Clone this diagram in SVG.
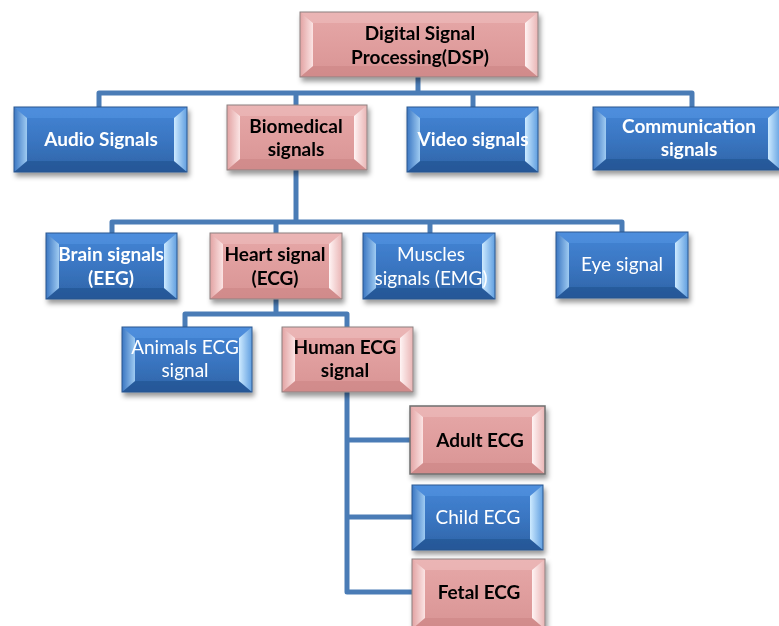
<svg xmlns="http://www.w3.org/2000/svg" width="779" height="626" viewBox="0 0 779 626">
  <defs>
    <linearGradient id="gBlue" x1="0" y1="0" x2="0" y2="1">
      <stop offset="0" stop-color="#4486d6"/>
      <stop offset="0.5" stop-color="#3a76c2"/>
      <stop offset="1" stop-color="#2f64a6"/>
    </linearGradient>
    <linearGradient id="gPink" x1="0" y1="0" x2="0" y2="1">
      <stop offset="0" stop-color="#e6a8a8"/>
      <stop offset="0.5" stop-color="#e09e9e"/>
      <stop offset="1" stop-color="#d89494"/>
    </linearGradient>
    <linearGradient id="gBlueL" x1="0" y1="0" x2="1" y2="0">
      <stop offset="0" stop-color="#3a76c2"/>
      <stop offset="1" stop-color="#9fcbf2"/>
    </linearGradient>
    <linearGradient id="gBlueR" x1="0" y1="0" x2="1" y2="0">
      <stop offset="0" stop-color="#cdeaff"/>
      <stop offset="1" stop-color="#5f9ee0"/>
    </linearGradient>
    <linearGradient id="gPinkL" x1="0" y1="0" x2="1" y2="0">
      <stop offset="0" stop-color="#e2a2a2"/>
      <stop offset="1" stop-color="#fbe4e4"/>
    </linearGradient>
    <linearGradient id="gPinkR" x1="0" y1="0" x2="1" y2="0">
      <stop offset="0" stop-color="#fff4f4"/>
      <stop offset="1" stop-color="#e9b4b4"/>
    </linearGradient>
    <filter id="shadow" x="-10%" y="-15%" width="125%" height="140%">
      <feDropShadow dx="2" dy="4" stdDeviation="2.5" flood-color="#000" flood-opacity="0.4"/>
    </filter>
  </defs>
  <style>
    .node { filter: url(#shadow); }
    .blue .face { fill: url(#gBlue); }
    .blue .lf { fill: url(#gBlueL); }
    .blue .rf { fill: url(#gBlueR); }
    .blue .tf { fill: #5a9ae6; opacity: 0.45; }
    .blue .bf { fill: #1f4f8c; opacity: 0.55; }
    .blue .edge { fill: none; stroke: #2b568f; stroke-width: 1; }
    .pink .face { fill: url(#gPink); }
    .pink .lf { fill: url(#gPinkL); }
    .pink .rf { fill: url(#gPinkR); }
    .pink .tf { fill: #f0c2c2; opacity: 0.5; }
    .pink .bf { fill: #c98282; opacity: 0.5; }
    .pink .edge { fill: none; stroke: #8c8080; stroke-width: 1; }
    text { font-family: Lato, "Liberation Sans", sans-serif; font-size: 19px; text-anchor: middle; }
    .blue text { fill: #ffffff; }
    .pink text { fill: #000000; }
    .b { font-weight: bold; }
    .r { font-weight: normal; }
    .wire { fill: none; stroke: #4a7cb6; stroke-width: 5; stroke-linejoin: round; }
  </style>

  <!-- connectors -->
  <g id="connectors">
    <path class="wire" d="M418,77 V93"/>
    <path class="wire" d="M99,107 V93 H692 V107"/>
    <path class="wire" d="M296,93 V105"/>
    <path class="wire" d="M473,93 V107"/>
    <path class="wire" d="M296,170 V222"/>
    <path class="wire" d="M112,233 V222 H622 V232"/>
    <path class="wire" d="M276,222 V233"/>
    <path class="wire" d="M430,222 V233"/>
    <path class="wire" d="M276,299 V314"/>
    <path class="wire" d="M185,327 V314 H347 V327"/>
    <path class="wire" d="M347,392 V592 H412"/>
    <path class="wire" d="M347,440 H410"/>
    <path class="wire" d="M347,517 H412"/>
  </g>

  <!-- level 0 -->
  <g id="dsp" class="node pink">
    <rect class="face" x="300" y="12" width="238" height="65"/>
    <polygon class="tf" points="300,12 538,12 525,23 313,23"/>
    <polygon class="bf" points="300,77 313,66 525,66 538,77"/>
    <polygon class="lf" points="300,12 313,23 313,66 300,77"/>
    <polygon class="rf" points="525,23 538,12 538,77 525,66"/>
    <rect class="edge" x="300" y="12" width="238" height="65"/>
    <text class="b" x="420" y="40">Digital Signal</text>
    <text class="b" x="420" y="64">Processing(DSP)</text>
  </g>

  <!-- level 1 -->
  <g id="audio" class="node blue">
    <rect class="face" x="14" y="107" width="173" height="65"/>
    <polygon class="tf" points="14,107 187,107 174,118 27,118"/>
    <polygon class="bf" points="14,172 27,161 174,161 187,172"/>
    <polygon class="lf" points="14,107 27,118 27,161 14,172"/>
    <polygon class="rf" points="174,118 187,107 187,172 174,161"/>
    <rect class="edge" x="14" y="107" width="173" height="65"/>
    <text class="b" x="101" y="146">Audio Signals</text>
  </g>

  <g id="biomedical" class="node pink">
    <rect class="face" x="227" y="105" width="140" height="65"/>
    <polygon class="tf" points="227,105 367,105 354,116 240,116"/>
    <polygon class="bf" points="227,170 240,159 354,159 367,170"/>
    <polygon class="lf" points="227,105 240,116 240,159 227,170"/>
    <polygon class="rf" points="354,116 367,105 367,170 354,159"/>
    <rect class="edge" x="227" y="105" width="140" height="65"/>
    <text class="b" x="296" y="133">Biomedical</text>
    <text class="b" x="296" y="156">signals</text>
  </g>

  <g id="video" class="node blue">
    <rect class="face" x="407" y="107" width="131" height="65"/>
    <polygon class="tf" points="407,107 538,107 525,118 420,118"/>
    <polygon class="bf" points="407,172 420,161 525,161 538,172"/>
    <polygon class="lf" points="407,107 420,118 420,161 407,172"/>
    <polygon class="rf" points="525,118 538,107 538,172 525,161"/>
    <rect class="edge" x="407" y="107" width="131" height="65"/>
    <text class="b" x="473" y="146">Video signals</text>
  </g>

  <g id="communication" class="node blue">
    <rect class="face" x="593" y="107" width="188" height="63"/>
    <polygon class="tf" points="593,107 781,107 768,118 606,118"/>
    <polygon class="bf" points="593,170 606,159 768,159 781,170"/>
    <polygon class="lf" points="593,107 606,118 606,159 593,170"/>
    <polygon class="rf" points="768,118 781,107 781,170 768,159"/>
    <rect class="edge" x="593" y="107" width="188" height="63"/>
    <text class="b" x="689" y="133">Communication</text>
    <text class="b" x="689" y="156">signals</text>
  </g>

  <!-- level 2 -->
  <g id="brain" class="node blue">
    <rect class="face" x="46" y="233" width="131" height="66"/>
    <polygon class="tf" points="46,233 177,233 164,244 59,244"/>
    <polygon class="bf" points="46,299 59,288 164,288 177,299"/>
    <polygon class="lf" points="46,233 59,244 59,288 46,299"/>
    <polygon class="rf" points="164,244 177,233 177,299 164,288"/>
    <rect class="edge" x="46" y="233" width="131" height="66"/>
    <text class="b" x="111" y="261">Brain signals</text>
    <text class="b" x="111" y="285">(EEG)</text>
  </g>

  <g id="heart" class="node pink">
    <rect class="face" x="210" y="233" width="132" height="66"/>
    <polygon class="tf" points="210,233 342,233 329,244 223,244"/>
    <polygon class="bf" points="210,299 223,288 329,288 342,299"/>
    <polygon class="lf" points="210,233 223,244 223,288 210,299"/>
    <polygon class="rf" points="329,244 342,233 342,299 329,288"/>
    <rect class="edge" x="210" y="233" width="132" height="66"/>
    <text class="b" x="275" y="261">Heart signal</text>
    <text class="b" x="275" y="285">(ECG)</text>
  </g>

  <g id="muscles" class="node blue">
    <rect class="face" x="363" y="233" width="132" height="66"/>
    <polygon class="tf" points="363,233 495,233 482,244 376,244"/>
    <polygon class="bf" points="363,299 376,288 482,288 495,299"/>
    <polygon class="lf" points="363,233 376,244 376,288 363,299"/>
    <polygon class="rf" points="482,244 495,233 495,299 482,288"/>
    <rect class="edge" x="363" y="233" width="132" height="66"/>
    <text class="r" x="431" y="261">Muscles</text>
    <text class="r" x="431" y="285">signals (EMG)</text>
  </g>

  <g id="eye" class="node blue">
    <rect class="face" x="556" y="232" width="132" height="66"/>
    <polygon class="tf" points="556,232 688,232 675,243 569,243"/>
    <polygon class="bf" points="556,298 569,287 675,287 688,298"/>
    <polygon class="lf" points="556,232 569,243 569,287 556,298"/>
    <polygon class="rf" points="675,243 688,232 688,298 675,287"/>
    <rect class="edge" x="556" y="232" width="132" height="66"/>
    <text class="r" x="622" y="271">Eye signal</text>
  </g>

  <!-- level 3 -->
  <g id="animals" class="node blue">
    <rect class="face" x="122" y="327" width="130" height="65"/>
    <polygon class="tf" points="122,327 252,327 239,338 135,338"/>
    <polygon class="bf" points="122,392 135,381 239,381 252,392"/>
    <polygon class="lf" points="122,327 135,338 135,381 122,392"/>
    <polygon class="rf" points="239,338 252,327 252,392 239,381"/>
    <rect class="edge" x="122" y="327" width="130" height="65"/>
    <text class="r" x="185" y="354">Animals ECG</text>
    <text class="r" x="185" y="377">signal</text>
  </g>

  <g id="human" class="node pink">
    <rect class="face" x="282" y="327" width="131" height="65"/>
    <polygon class="tf" points="282,327 413,327 400,338 295,338"/>
    <polygon class="bf" points="282,392 295,381 400,381 413,392"/>
    <polygon class="lf" points="282,327 295,338 295,381 282,392"/>
    <polygon class="rf" points="400,338 413,327 413,392 400,381"/>
    <rect class="edge" x="282" y="327" width="131" height="65"/>
    <text class="b" x="345" y="354">Human ECG</text>
    <text class="b" x="345" y="377">signal</text>
  </g>

  <!-- level 4 -->
  <g id="adult" class="node pink">
    <rect class="face" x="410" y="406" width="135" height="68"/>
    <polygon class="tf" points="410,406 545,406 532,417 423,417"/>
    <polygon class="bf" points="410,474 423,463 532,463 545,474"/>
    <polygon class="lf" points="410,406 423,417 423,463 410,474"/>
    <polygon class="rf" points="532,417 545,406 545,474 532,463"/>
    <rect class="edge" x="410" y="406" width="135" height="68" style="stroke:#6f6f6f;stroke-width:1.5"/>
    <text class="b" x="480" y="447">Adult ECG</text>
  </g>

  <g id="child" class="node blue">
    <rect class="face" x="412" y="485" width="131" height="65"/>
    <polygon class="tf" points="412,485 543,485 530,496 425,496"/>
    <polygon class="bf" points="412,550 425,539 530,539 543,550"/>
    <polygon class="lf" points="412,485 425,496 425,539 412,550"/>
    <polygon class="rf" points="530,496 543,485 543,550 530,539"/>
    <rect class="edge" x="412" y="485" width="131" height="65"/>
    <text class="r" x="478" y="524">Child ECG</text>
  </g>

  <g id="fetal" class="node pink">
    <rect class="face" x="412" y="559" width="133" height="70"/>
    <polygon class="tf" points="412,559 545,559 532,570 425,570"/>
    <polygon class="bf" points="412,629 425,618 532,618 545,629"/>
    <polygon class="lf" points="412,559 425,570 425,618 412,629"/>
    <polygon class="rf" points="532,570 545,559 545,629 532,618"/>
    <rect class="edge" x="412" y="559" width="133" height="70"/>
    <text class="b" x="479" y="599">Fetal ECG</text>
  </g>
</svg>
